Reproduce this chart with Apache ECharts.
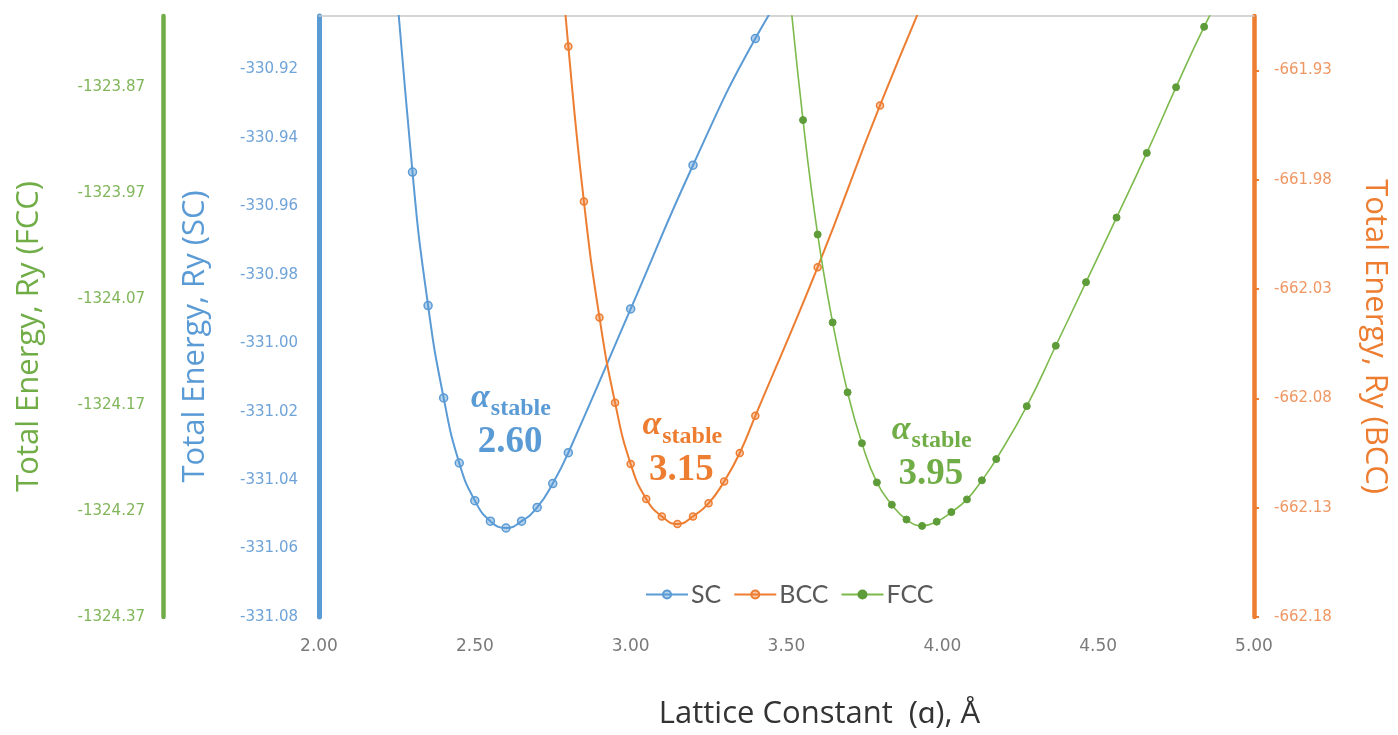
<!DOCTYPE html>
<html>
<head>
<meta charset="utf-8">
<script src="https://cdn.jsdelivr.net/npm/echarts@6/dist/echarts.min.js"></script>
<style>
html,body{margin:0;padding:0;background:#fff;}
#chart{width:1398px;height:735px;}
</style>
</head>
<body>
<div id="chart"></div>
<script>
// ---- data ----
const seriesNames = ['SC', 'BCC', 'FCC'];

const scA = [2.20, 2.30, 2.35, 2.40, 2.45, 2.50, 2.55, 2.60, 2.65, 2.70, 2.75, 2.80, 3.00, 3.20, 3.40, 3.60];
const scE = [-330.840, -330.950, -330.989, -331.016, -331.035, -331.046, -331.052, -331.054, -331.052, -331.048, -331.041, -331.032, -330.990, -330.948, -330.911, -330.882];

const bccA = [2.75, 2.80, 2.85, 2.90, 2.95, 3.00, 3.05, 3.10, 3.15, 3.20, 3.25, 3.30, 3.35, 3.40, 3.60, 3.80, 4.00];
const bccE = [-661.835, -661.919, -661.990, -662.043, -662.082, -662.110, -662.126, -662.134, -662.1375, -662.134, -662.128, -662.118, -662.105, -662.088, -662.020, -661.946, -661.878];

const fccA = [3.505, 3.553, 3.600, 3.648, 3.696, 3.742, 3.790, 3.838, 3.885, 3.935, 3.982, 4.029, 4.079, 4.127, 4.173, 4.271, 4.364, 4.461, 4.559, 4.656, 4.750, 4.840, 4.935];
const fccE = [-1323.765, -1323.901, -1324.009, -1324.092, -1324.158, -1324.206, -1324.243, -1324.264, -1324.278, -1324.284, -1324.280, -1324.271, -1324.259, -1324.241, -1324.221, -1324.171, -1324.114, -1324.054, -1323.993, -1323.932, -1323.870, -1323.813, -1323.760];

const stableA = [2.60, 3.15, 3.95];
const stableLabels = ['2.60', '3.15', '3.95'];

const xTicks = [2.00, 2.50, 3.00, 3.50, 4.00, 4.50, 5.00];
const scTicks = [-331.08, -331.06, -331.04, -331.02, -331.00, -330.98, -330.96, -330.94, -330.92];
const bccTicks = [-662.18, -662.13, -662.08, -662.03, -661.98, -661.93];
const fccTicks = [-1324.37, -1324.27, -1324.17, -1324.07, -1323.97, -1323.87];

const axisTitles = {
  x: 'Lattice Constant  (\u0251), \u00C5',
  sc: 'Total Energy, Ry (SC)',
  bcc: 'Total Energy, Ry (BCC)',
  fcc: 'Total Energy, Ry (FCC)'
};

// ---- styling ----
const C_SC = '#5B9BD5', C_BCC = '#ED7D31', C_FCC = '#70AD47';
const FONT = 'Lato, "Open Sans", sans-serif';
const TITLE_FONT = '"Open Sans", Lato, sans-serif';
const TICK_FONT = '"DejaVu Sans", sans-serif';
const SERIF = '"Liberation Serif", "DejaVu Serif", serif';
const fmt2 = v => Number(v).toFixed(2);

function pairs(xs, ys) { return xs.map((x, i) => [x, ys[i]]); }

function annot(color, idx, yAnchor) {
  const coord = [stableA[idx], yAnchor];
  const common = { fontFamily: SERIF, fontWeight: 'bold', color: color };
  return {
    symbol: 'circle',
    symbolSize: 1,
    itemStyle: { color: 'transparent' },
    silent: true,
    label: { show: true, position: 'inside' },
    data: [
      { coord: coord, label: Object.assign({ formatter: '\u03B1', offset: [-25.5, -41.5], fontStyle: 'italic', fontSize: 34 }, common) },
      { coord: coord, label: Object.assign({ formatter: 'stable', offset: [14.8, -30.3], fontSize: 24 }, common) },
      { coord: coord, label: Object.assign({ formatter: stableLabels[idx], offset: [4, 3], fontSize: 37 }, common) }
    ]
  };
}

const chart = echarts.init(document.getElementById('chart'), null, { renderer: 'canvas' });

const option = {
  animation: false,
  backgroundColor: '#ffffff',
  grid: { left: 319, right: 129, top: 16, bottom: 111, containLabel: false },
  legend: {
    data: seriesNames,
    left: 640,
    top: 577,
    itemWidth: 42,
    itemHeight: 10,
    itemGap: 12,
    textStyle: { fontFamily: FONT, fontSize: 25, color: '#595959', padding: [0, 0, 0, -2] }
  },
  xAxis: [
    {
      type: 'value', min: 2, max: 5, interval: 0.5,
      axisLine: { show: false, onZero: false },
      axisTick: { show: false },
      splitLine: { show: false },
      axisLabel: { customValues: xTicks, formatter: fmt2, color: '#7a7a7a', fontSize: 17, fontFamily: TICK_FONT, margin: 21 },
      name: axisTitles.x,
      nameLocation: 'middle',
      nameGap: 82,
      nameTextStyle: { fontFamily: TITLE_FONT, fontSize: 31, color: '#333333', padding: [0, 0, 0, 66] }
    },
    {
      type: 'value', min: 2, max: 5, position: 'top',
      axisLine: { show: true, onZero: false, lineStyle: { color: '#C8C8C8', width: 1.5 } },
      axisTick: { show: false }, axisLabel: { show: false }, splitLine: { show: false }
    }
  ],
  yAxis: [
    {
      type: 'value', position: 'left', min: -331.08, max: -330.9044, interval: 0.02,
      axisLine: { show: true, onZero: false, lineStyle: { color: C_SC, width: 5 } },
      axisTick: { show: false },
      splitLine: { show: false },
      axisLabel: { customValues: scTicks, formatter: fmt2, color: '#6FA3D8', fontSize: 15, fontFamily: TICK_FONT, margin: 21 },
      name: axisTitles.sc, nameLocation: 'middle', nameGap: 108,
      nameTextStyle: { fontFamily: TITLE_FONT, fontSize: 31, color: C_SC, padding: [0, 40, 0, 0] }
    },
    {
      type: 'value', position: 'right', min: -662.18, max: -661.9051, interval: 0.05,
      axisLine: { show: true, onZero: false, lineStyle: { color: C_BCC, width: 4.5 } },
      axisTick: { show: true, customValues: bccTicks, length: 5, lineStyle: { color: C_BCC, width: 2 } },
      splitLine: { show: false },
      axisLabel: { customValues: bccTicks, formatter: fmt2, color: '#EF9763', fontSize: 15, fontFamily: TICK_FONT, margin: 20 },
      name: axisTitles.bcc, nameLocation: 'middle', nameGap: 105, nameRotate: -90,
      nameTextStyle: { fontFamily: TITLE_FONT, fontSize: 31, color: C_BCC, padding: [0, 0, 0, 40] }
    },
    {
      type: 'value', position: 'left', offset: 156, min: -1324.37, max: -1323.8028, interval: 0.1,
      axisLine: { show: true, onZero: false, lineStyle: { color: C_FCC, width: 4.5 } },
      axisTick: { show: false },
      splitLine: { show: false },
      axisLabel: { customValues: fccTicks, formatter: fmt2, color: '#80B65A', fontSize: 15, fontFamily: TICK_FONT, margin: 18 },
      name: axisTitles.fcc, nameLocation: 'middle', nameGap: 118,
      nameTextStyle: { fontFamily: TITLE_FONT, fontSize: 31, color: C_FCC, padding: [0, 40, 0, 0] }
    }
  ],
  series: [
    {
      name: seriesNames[0], type: 'line', xAxisIndex: 0, yAxisIndex: 0,
      data: pairs(scA, scE), smooth: 0.5, clip: true,
      symbol: 'circle', symbolSize: 8, showSymbol: true,
      lineStyle: { color: C_SC, width: 2 },
      itemStyle: { color: 'rgba(91,155,213,0.45)', borderColor: C_SC, borderWidth: 1.5 },
      markPoint: annot(C_SC, 0, -331.0281)
    },
    {
      name: seriesNames[1], type: 'line', xAxisIndex: 0, yAxisIndex: 1,
      data: pairs(bccA, bccE), smooth: 0.5, clip: true,
      symbol: 'circle', symbolSize: 7, showSymbol: true,
      lineStyle: { color: C_BCC, width: 2 },
      itemStyle: { color: 'rgba(237,125,49,0.4)', borderColor: C_BCC, borderWidth: 1.5 },
      markPoint: annot(C_BCC, 1, -662.1114)
    },
    {
      name: seriesNames[2], type: 'line', xAxisIndex: 0, yAxisIndex: 2,
      data: pairs(fccA, fccE), smooth: 0.5, clip: true,
      symbol: 'circle', symbolSize: 7, showSymbol: true,
      lineStyle: { color: '#7DBA4C', width: 1.6 },
      itemStyle: { color: '#5E9C3A', borderColor: '#5E9C3A', borderWidth: 1 },
      markPoint: annot(C_FCC, 2, -1324.2325)
    }
  ]
};
chart.setOption(option);
</script>
</body>
</html>
